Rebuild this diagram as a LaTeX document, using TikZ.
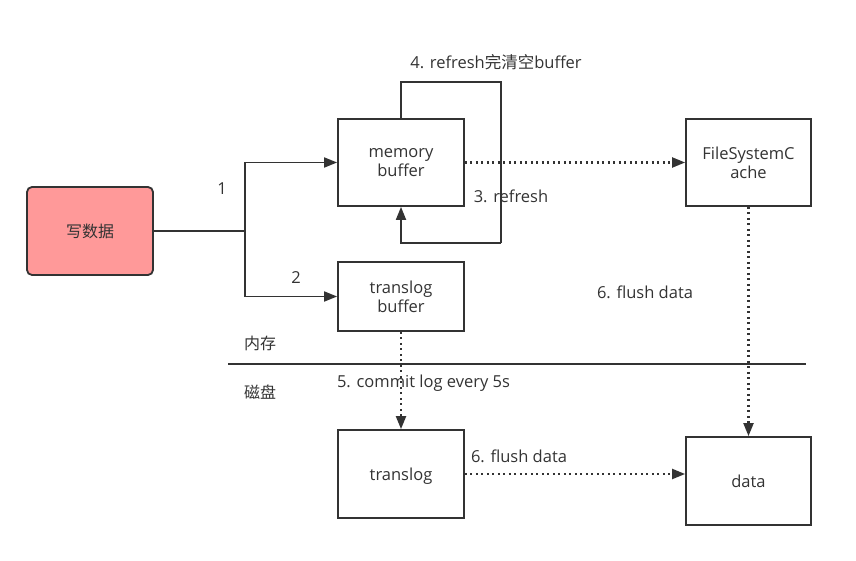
\documentclass[tikz,border=0pt]{standalone}
\usepackage{fontspec}
\setmainfont{Open Sans}
\newfontfamily\cjk{Noto Sans CJK SC}
\usetikzlibrary{arrows.meta}
\definecolor{ink}{HTML}{333333}
\definecolor{pinkf}{HTML}{FF9999}
\tikzset{
  box/.style={draw=ink, line width=1.8pt, fill=white, minimum width=126pt, inner sep=0pt, align=center, text=ink, font=\fontsize{16.5}{19.5}\selectfont, text depth=0pt},
  conn/.style={draw=ink, line width=1.8pt},
  arr/.style={conn, -{Triangle[length=13pt,width=10pt]}},
  darr/.style={arr, line width=2.1pt, dash pattern=on 2pt off 3.5pt},
  lbl/.style={text=ink, font=\fontsize{16.5}{19}\selectfont, inner sep=0pt},
  cjklbl/.style={lbl, font=\cjk\fontsize{16}{19}\selectfont}
}
\begin{document}
\begin{tikzpicture}[x=1pt,y=-1pt]
\useasboundingbox (0,0) rectangle (856,561);
\node[box, fill=pinkf, rounded corners=5pt, minimum height=88pt, font=\cjk\fontsize{16}{19}\selectfont] (w) at (90,231) {写数据};
\node[box, minimum height=87pt] (mb) at (401,162.5) {memory\\buffer};
\node[box, minimum height=69pt] (tb) at (401,296.5) {translog\\buffer};
\node[box, minimum width=125pt, minimum height=87pt] (fsc) at (748.5,162.5) {FileSystemC\\ache};
\node[box, minimum height=88pt] (tl) at (401,474) {translog};
\node[box, minimum width=125pt, minimum height=88pt] (d) at (748.5,481) {data};
\coordinate (j) at (245,231);
\coordinate (sepL) at (228,364);
\coordinate (sepR) at (806,364);
\coordinate (lt) at (501,82);
\coordinate (lb) at (501,243);
% write branches
\draw[conn] (w.east) -- (j);
\draw[arr] (j) |- (mb.west);
\draw[arr] (j) |- (tb.west);
% refresh loop
\draw[conn] (mb.north) |- (lt) -- (lb);
\draw[arr] (lb) -| (mb.south);
% dotted flows
\draw[darr] (mb.east) -- (fsc.west);
\draw[darr] (fsc.south) -- (d.north);
\draw[darr] (tb.south) -- (tl.north);
\draw[darr] (tl.east) -- (tl.east -| d.west);
% separator
\draw[conn, line width=1.6pt] (sepL) -- (sepR);
% labels
\node[lbl] (l1) at (222,189) {1};
\node[lbl] (l2) at (296,278) {2};
\node[lbl] (l4) at (496,62) {4. refresh{\cjk 完清空}buffer};
\node[lbl] (l3) at (511,196) {3. refresh};
\node[lbl] (l6a) at (645,292) {6. flush data};
\node[lbl] (l5) at (423.5,383) {5. commit log every 5s};
\node[lbl] (l6b) at (519,456) {6. flush data};
\node[cjklbl] (nc) at (260,343) {内存};
\node[cjklbl] (cp) at (260,392) {磁盘};
\end{tikzpicture}
\end{document}
